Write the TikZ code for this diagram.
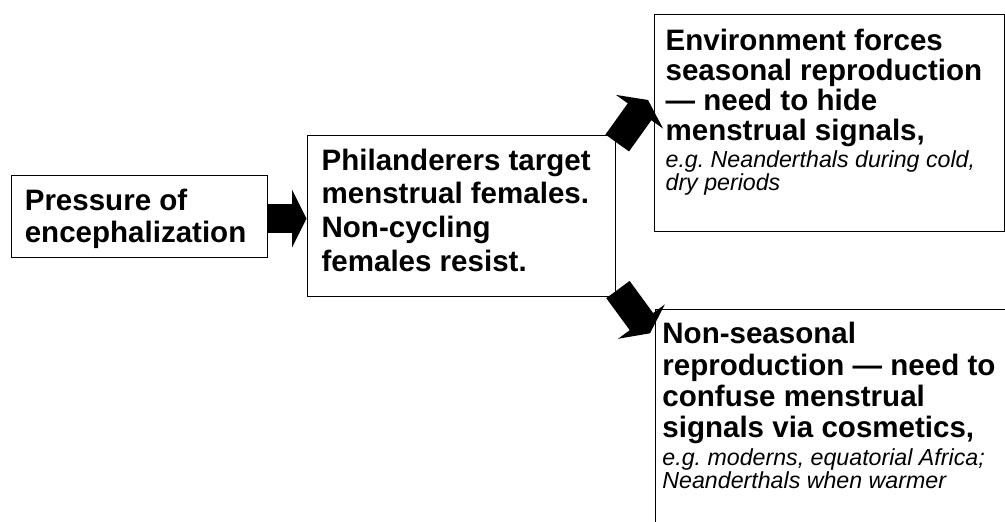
\documentclass[tikz,border=0pt]{standalone}
\usepackage{fontspec}
\setmainfont{Liberation Sans}
\usetikzlibrary{positioning,calc,arrows.meta}
\lineskiplimit=-\maxdimen

\tikzset{
  box/.style={draw,line width=0.7pt,fill=white,anchor=north west,inner ysep=0pt},
  fatarrow/.style={line width=0.58cm,-{Triangle[length=0.29cm,width=1.15cm]}}
}
\newcommand{\bigbold}[1]{\bfseries\fontsize{16.8}{#1}\selectfont}
\newcommand{\smallit}{\mdseries\itshape\fontsize{13.2}{10.9}\selectfont}

\begin{document}
\begin{tikzpicture}
    \useasboundingbox (0,0) rectangle (20.1,-10.42);
    \clip (0,0) rectangle (20.1,-10.42);
    \node[box,inner xsep=0.27cm,text height=0.7cm,text depth=0.94cm] (press) at (0.214,-3.5)
        {\parbox[t]{4.59cm}{\bigbold{18.2}Pressure of\\ encephalization}};
    \node[box,inner xsep=0.29cm,text height=0.7cm,text depth=2.52cm] (phil) at (6.13,-2.69)
        {\parbox[t]{5.58cm}{\bigbold{19.2}Philanderers target\\ menstrual females.\\ Non-cycling\\ females resist.}};
    \node[box,inner xsep=0.22cm,text height=0.72cm,text depth=3.62cm] (season) at (13.08,-0.28)
        {\parbox[t]{6.55cm}{\bigbold{17.1}Environment forces\\ seasonal reproduction\\ — need to hide\\ menstrual signals,\par\vspace{0.03cm}
        \smallit e.g.\ Neanderthals during cold,\\ dry periods}};
    \node[box,inner xsep=0.146cm,text height=0.68cm,text depth=4.7cm] (nonseason) at (13.09,-6.18)
        {\parbox[t]{7.3cm}{\bigbold{17.9}Non-seasonal\\ reproduction — need to\\ confuse menstrual\\ signals via cosmetics,\par\vspace{0.05cm}
        \smallit e.g.\ moderns, equatorial Africa;\\ Neanderthals when warmer}};
    %block arrows
    \coordinate (a1) at ([yshift=-0.04cm]press.east);
    \coordinate (u1) at ([shift={(0.03,-0.17)}]phil.north east);
    \coordinate (u2) at ([shift={(-0.12,-1.72)}]season.north west);
    \coordinate (d1) at ([shift={(0.044,0.144)}]phil.south east);
    \coordinate (d2) at ([shift={(-0.09,-0.486)}]nonseason.north west);
    \draw[fatarrow] (a1) -- (a1 -| phil.west);
    \draw[fatarrow] (u1) -- (u2);
    \draw[fatarrow] (d1) -- (d2);
\end{tikzpicture}
\end{document}
